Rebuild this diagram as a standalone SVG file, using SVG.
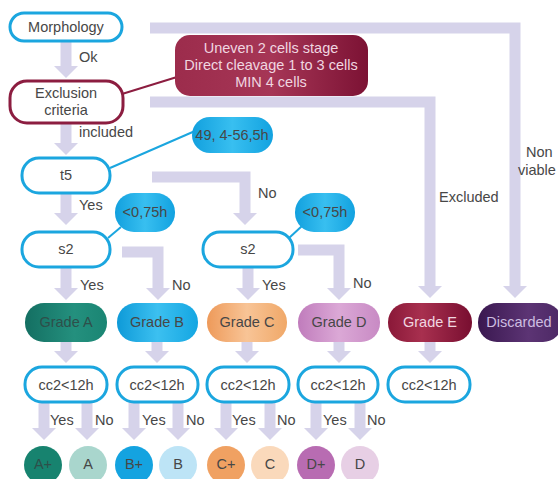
<svg xmlns="http://www.w3.org/2000/svg" width="558" height="479" viewBox="0 0 558 479">
  <style>
    text { font-family: "Liberation Sans", Arial, sans-serif; font-size: 14.5px; fill: #474747; }
    .c { text-anchor: middle; }
    .q { fill: #fff; stroke: #1ba6df; stroke-width: 3; }
    .qr { fill: #fff; stroke: #8c1d40; stroke-width: 3; }
    .flow { fill: none; stroke: #d6d3ea; stroke-width: 11; }
    .tie { fill: none; stroke: #1ba6df; stroke-width: 2; }
    .tier { fill: none; stroke: #8c1d40; stroke-width: 2; }
    .lt { fill: #f0d6e0; }
    .lp { fill: #cdbde0; }
  </style>
  <defs>
    <marker id="ah" markerUnits="userSpaceOnUse" viewBox="0 0 12 24" markerWidth="12" markerHeight="24" refX="0" refY="12" orient="auto">
      <path d="M0,0 L12,12 L0,24 Z" fill="#d6d3ea"/>
    </marker>
    <linearGradient id="gA" x1="0" x2="1" y1="0" y2="0"><stop offset="0" stop-color="#146f62"/><stop offset="0.6" stop-color="#24907e"/><stop offset="1" stop-color="#1a8573"/></linearGradient>
    <linearGradient id="gB" x1="0" x2="1" y1="0" y2="0"><stop offset="0" stop-color="#0e9ad8"/><stop offset="0.5" stop-color="#3cc0f0"/><stop offset="1" stop-color="#14a6e2"/></linearGradient>
    <linearGradient id="gC" x1="0" x2="1" y1="0" y2="0"><stop offset="0" stop-color="#ee9a5a"/><stop offset="0.5" stop-color="#f8c496"/><stop offset="1" stop-color="#f0a868"/></linearGradient>
    <linearGradient id="gD" x1="0" x2="1" y1="0" y2="0"><stop offset="0" stop-color="#c07cbc"/><stop offset="0.5" stop-color="#dba8d6"/><stop offset="1" stop-color="#c88ac4"/></linearGradient>
    <linearGradient id="gE" x1="0" x2="1" y1="0" y2="0"><stop offset="0" stop-color="#8a1838"/><stop offset="0.4" stop-color="#a8304f"/><stop offset="1" stop-color="#780e30"/></linearGradient>
    <linearGradient id="gX" x1="0" x2="1" y1="0" y2="0"><stop offset="0" stop-color="#3a1850"/><stop offset="0.6" stop-color="#5c3474"/><stop offset="1" stop-color="#4c2864"/></linearGradient>
    <linearGradient id="gR" x1="0" x2="1" y1="0" y2="0"><stop offset="0" stop-color="#9c2c4c"/><stop offset="0.5" stop-color="#a63656"/><stop offset="1" stop-color="#7c1234"/></linearGradient>
    <linearGradient id="gS" x1="0" x2="1" y1="0" y2="0"><stop offset="0" stop-color="#12a0de"/><stop offset="0.5" stop-color="#38bff0"/><stop offset="1" stop-color="#12a2e0"/></linearGradient>
  </defs>

  <!-- connectors -->
  <g id="connectors">
    <path class="flow" marker-end="url(#ah)" d="M150,28 H515 V286"/>
    <path class="flow" marker-end="url(#ah)" d="M150,102 H430 V286"/>
    <path class="flow" marker-end="url(#ah)" d="M66,41 V66"/>
    <path class="flow" marker-end="url(#ah)" d="M66,123 V143"/>
    <path class="flow" marker-end="url(#ah)" d="M66,193 V213"/>
    <path class="flow" marker-end="url(#ah)" d="M152,177 H245 V213"/>
    <path class="flow" marker-end="url(#ah)" d="M66,267 V288"/>
    <path class="flow" marker-end="url(#ah)" d="M122,252 H158 V288"/>
    <path class="flow" marker-end="url(#ah)" d="M248,267 V288"/>
    <path class="flow" marker-end="url(#ah)" d="M298,250 H339 V288"/>
    <!-- grade to cc2 -->
    <path class="flow" marker-end="url(#ah)" d="M66,342 V351"/>
    <path class="flow" marker-end="url(#ah)" d="M157,342 V351"/>
    <path class="flow" marker-end="url(#ah)" d="M247,342 V351"/>
    <path class="flow" marker-end="url(#ah)" d="M339,342 V351"/>
    <path class="flow" marker-end="url(#ah)" d="M430,342 V351"/>
    <!-- cc2 to outcomes -->
    <path class="flow" marker-end="url(#ah)" d="M44,402 V428"/>
    <path class="flow" marker-end="url(#ah)" d="M87,402 V428"/>
    <path class="flow" marker-end="url(#ah)" d="M134,402 V428"/>
    <path class="flow" marker-end="url(#ah)" d="M178,402 V428"/>
    <path class="flow" marker-end="url(#ah)" d="M226,402 V428"/>
    <path class="flow" marker-end="url(#ah)" d="M270,402 V428"/>
    <path class="flow" marker-end="url(#ah)" d="M316,402 V428"/>
    <path class="flow" marker-end="url(#ah)" d="M360,402 V428"/>
    <!-- note ties -->
    <path class="tier" d="M122,94 L177,77"/>
    <path class="tie" d="M110,168 L195,131"/>
    <path class="tie" d="M108,238 L121,227"/>
    <path class="tie" d="M289,238 L302,226"/>
    <!-- connector labels -->
    <text x="79" y="62">Ok</text>
    <text x="79" y="137">included</text>
    <text x="79" y="210">Yes</text>
    <text x="258" y="198">No</text>
    <text x="80" y="290">Yes</text>
    <text x="172" y="290">No</text>
    <text x="262" y="290">Yes</text>
    <text x="353" y="288">No</text>
    <text x="439" y="202">Excluded</text>
    <text x="526" y="157">Non</text>
    <text x="518" y="175">viable</text>
    <text x="50" y="425">Yes</text>
    <text x="95" y="425">No</text>
    <text x="142" y="425">Yes</text>
    <text x="186" y="425">No</text>
    <text x="232" y="425">Yes</text>
    <text x="277" y="425">No</text>
    <text x="323" y="425">Yes</text>
    <text x="367" y="425">No</text>
  </g>

  <g id="morphology">
    <rect class="q" x="10" y="13" width="112" height="28" rx="14"/>
    <text class="c" x="66" y="32">Morphology</text>
  </g>
  <g id="exclusion">
    <rect class="qr" x="10" y="81" width="113" height="42" rx="17"/>
    <text class="c" x="66" y="98">Exclusion</text>
    <text class="c" x="66" y="115">criteria</text>
  </g>
  <g id="criteria-list">
    <rect x="175" y="35" width="193" height="61" rx="15" fill="url(#gR)"/>
    <text class="c lt" x="271" y="53">Uneven 2 cells stage</text>
    <text class="c lt" x="271" y="70">Direct cleavage 1 to 3 cells</text>
    <text class="c lt" x="271" y="87">MIN 4 cells</text>
  </g>
  <g id="t5-window">
    <rect x="192" y="117" width="81" height="36" rx="18" fill="url(#gS)"/>
    <text class="c" x="232" y="140">49, 4-56,5h</text>
  </g>
  <g id="t5">
    <rect class="q" x="22" y="158" width="88" height="35" rx="17"/>
    <text class="c" x="66" y="180">t5</text>
  </g>
  <g id="s2-a">
    <rect class="q" x="22" y="232" width="88" height="35" rx="17"/>
    <text class="c" x="66" y="254">s2</text>
  </g>
  <g id="s2-a-limit">
    <rect x="115" y="193" width="60" height="39" rx="19" fill="url(#gS)"/>
    <text class="c" x="145" y="217">&lt;0,75h</text>
  </g>
  <g id="s2-b">
    <rect class="q" x="203" y="232" width="90" height="35" rx="17"/>
    <text class="c" x="248" y="254">s2</text>
  </g>
  <g id="s2-b-limit">
    <rect x="295" y="193" width="60" height="39" rx="19" fill="url(#gS)"/>
    <text class="c" x="325" y="217">&lt;0,75h</text>
  </g>

  <g id="grade-a">
    <rect x="25" y="303" width="82" height="39" rx="19" fill="url(#gA)"/>
    <text class="c" x="66" y="327" style="fill:#2e4f4a">Grade A</text>
  </g>
  <g id="grade-b">
    <rect x="117" y="303" width="81" height="39" rx="19" fill="url(#gB)"/>
    <text class="c" x="157" y="327">Grade B</text>
  </g>
  <g id="grade-c">
    <rect x="207" y="303" width="80" height="39" rx="19" fill="url(#gC)"/>
    <text class="c" x="247" y="327">Grade C</text>
  </g>
  <g id="grade-d">
    <rect x="298" y="303" width="82" height="39" rx="19" fill="url(#gD)"/>
    <text class="c" x="339" y="327">Grade D</text>
  </g>
  <g id="grade-e">
    <rect x="388" y="303" width="84" height="39" rx="19" fill="url(#gE)"/>
    <text class="c lt" x="430" y="327">Grade E</text>
  </g>
  <g id="discarded">
    <rect x="478" y="303" width="84" height="39" rx="19" fill="url(#gX)"/>
    <text class="c lp" x="519" y="327">Discarded</text>
  </g>

  <g id="cc2-a">
    <rect class="q" x="25" y="367" width="82" height="35" rx="17"/>
    <text class="c" x="66" y="390">cc2&lt;12h</text>
  </g>
  <g id="cc2-b">
    <rect class="q" x="117" y="367" width="81" height="35" rx="17"/>
    <text class="c" x="157" y="390">cc2&lt;12h</text>
  </g>
  <g id="cc2-c">
    <rect class="q" x="207" y="367" width="82" height="35" rx="17"/>
    <text class="c" x="248" y="390">cc2&lt;12h</text>
  </g>
  <g id="cc2-d">
    <rect class="q" x="298" y="367" width="80" height="35" rx="17"/>
    <text class="c" x="338" y="390">cc2&lt;12h</text>
  </g>
  <g id="cc2-e">
    <rect class="q" x="388" y="367" width="82" height="35" rx="17"/>
    <text class="c" x="429" y="390">cc2&lt;12h</text>
  </g>

  <g id="a-plus"><circle cx="43" cy="465" r="19" fill="#17836f"/><text class="c" x="43" y="469" style="fill:#2e4f4a">A+</text></g>
  <g id="a"><circle cx="88" cy="465" r="19" fill="#a9d6cd"/><text class="c" x="88" y="469">A</text></g>
  <g id="b-plus"><circle cx="134" cy="465" r="19" fill="#14a3e0"/><text class="c" x="134" y="469">B+</text></g>
  <g id="b"><circle cx="178" cy="465" r="19" fill="#bde4f6"/><text class="c" x="178" y="469">B</text></g>
  <g id="c-plus"><circle cx="226" cy="465" r="19" fill="#f0a162"/><text class="c" x="226" y="469">C+</text></g>
  <g id="c"><circle cx="270" cy="465" r="19" fill="#fad9bb"/><text class="c" x="270" y="469">C</text></g>
  <g id="d-plus"><circle cx="316" cy="465" r="19" fill="#b86cb2"/><text class="c" x="316" y="469">D+</text></g>
  <g id="d"><circle cx="360" cy="465" r="19" fill="#e7cfe5"/><text class="c" x="360" y="469">D</text></g>
</svg>
